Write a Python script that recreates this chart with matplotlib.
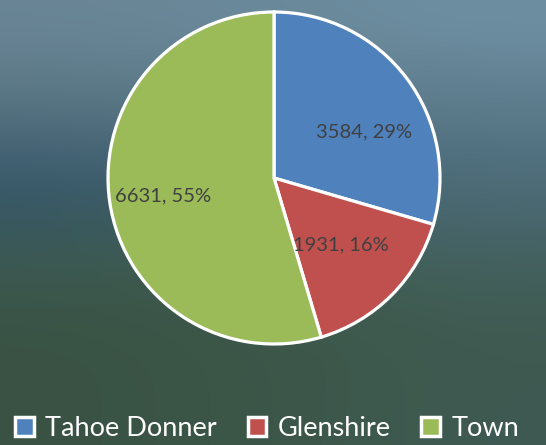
import numpy as np
import matplotlib.pyplot as plt
from matplotlib.colors import to_rgb

areas = ["Tahoe Donner", "Glenshire", "Town"]
counts = [3584, 1931, 6631]
percents = [29, 16, 55]
colors = ["#4f81bd", "#c0504d", "#9bbb59"]

# background: rough blur of the photo behind the chart (rows top->bottom, cols left->right)
bg_rows = [
    ["#6a8696", "#6a8a9c", "#6e8fa2"],
    ["#56727f", "#587684", "#5a7a8a"],
    ["#34556a", "#436376", "#4d6b79"],
    ["#3d5a52", "#41604f", "#43615f"],
    ["#395243", "#3c5748", "#3f5a50"],
    ["#395243", "#3c5748", "#3f5a52"],
]
bg = np.array([[to_rgb(c) for c in row] for row in bg_rows])

fig = plt.figure(figsize=(5.46, 4.45), dpi=100)
bgax = fig.add_axes([0, 0, 1, 1])
bgax.imshow(bg, aspect="auto", interpolation="bicubic", extent=[0, 1, 0, 1])
bgax.axis("off")

# pie: centre (274,178) px, radius ~166 px
cx, cy, r = 274 / 546, 1 - 178 / 445, 166
w, h = 2 * r / 546, 2 * r / 445
ax = fig.add_axes([cx - w / 2, cy - h / 2, w, h])
ax.patch.set_alpha(0)
wedges, _ = ax.pie(counts, colors=colors, startangle=90, counterclock=False,
                   wedgeprops=dict(edgecolor="white", linewidth=2.3))
ax.set_xlim(-1, 1)
ax.set_ylim(-1, 1)
ax.set_aspect("equal")

# label placement (radius fraction, angle shift in deg) mimicking Excel best-fit
lab_r = [0.61, 0.57, 0.68]
lab_shift = [-10, 0, 1]
for wd, n, p, lr, sh in zip(wedges, counts, percents, lab_r, lab_shift):
    ang = np.deg2rad((wd.theta1 + wd.theta2) / 2 + sh)
    ax.text(lr * np.cos(ang), lr * np.sin(ang), f"{n}, {p}%",
            ha="center", va="center", fontsize=14.5, color="#404040", family="Lato")

handles = [plt.Rectangle((0, 0), 1, 1, facecolor=c, edgecolor="white", linewidth=2.5) for c in colors]
leg = fig.legend(handles, areas, loc="lower center", bbox_to_anchor=(0.489, -0.045), ncol=3,
                 frameon=False, prop=dict(family="Lato", size=19.5), labelcolor="white",
                 handlelength=0.7, handleheight=0.7, handletextpad=0.4, columnspacing=1.15)

fig.savefig("out.png", dpi=100)
